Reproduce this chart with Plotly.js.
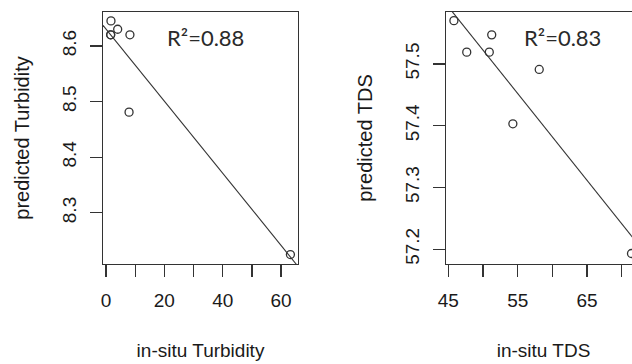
<!DOCTYPE html>
<html>
<head>
<meta charset="utf-8">
<script src="https://cdn.plot.ly/plotly-3.0.1.min.js"></script>
<style>
  html, body { margin: 0; padding: 0; overflow: hidden; background: #fff; }
  #chart { width: 660px; height: 364px; }
</style>
</head>
<body>
<div id="chart"></div>
<script>
// ---- data ----
const turbInSitu    = [1.7, 1.6, 1.6, 4.0, 8.2, 7.9, 63.2];
const turbPredicted = [8.645, 8.620, 8.620, 8.630, 8.620, 8.481, 8.225];
const tdsInSitu     = [45.8, 47.65, 50.9, 51.25, 54.3, 58.1, 71.4];
const tdsPredicted  = [57.570, 57.519, 57.519, 57.547, 57.403, 57.491, 57.193];

const turbXTicks  = [0, 10, 20, 30, 40, 50, 60];
const turbXLabels = ['0', '', '20', '', '40', '', '60'];
const turbYTicks  = [8.3, 8.4, 8.5, 8.6];
const tdsXTicks   = [45, 50, 55, 60, 65, 70, 75];
const tdsXLabels  = ['45', '', '55', '', '65', '', '75'];
const tdsYTicks   = [57.2, 57.3, 57.4, 57.5];

const turbR2 = 'R²=0.88';
const tdsR2  = 'R²=0.83';

// ---- helpers ----
function fit(x, y) {
  const n = x.length;
  const mx = x.reduce((a, b) => a + b, 0) / n;
  const my = y.reduce((a, b) => a + b, 0) / n;
  let sxy = 0, sxx = 0;
  for (let i = 0; i < n; i++) { sxy += (x[i] - mx) * (y[i] - my); sxx += (x[i] - mx) ** 2; }
  const b = sxy / sxx;
  return { a: my - b * mx, b: b };
}
function lineTrace(x, y, range, xa, ya) {
  const f = fit(x, y);
  return {
    x: range, y: range.map(v => f.a + f.b * v),
    xaxis: xa, yaxis: ya, mode: 'lines', type: 'scatter',
    line: { color: '#333', width: 1.1 }, hoverinfo: 'skip'
  };
}

const W = 660, H = 364;
const turbXRange = [-1.03, 65.8], turbYRange = [8.208, 8.661];
const tdsXRange = [44.66, 72.77], tdsYRange = [57.176, 57.584];

const markerStyle = { symbol: 'circle-open', size: 8, color: '#333', line: { width: 1.3, color: '#333' } };

const traces = [
  lineTrace(turbInSitu, turbPredicted, turbXRange, 'x', 'y'),
  { x: turbInSitu, y: turbPredicted, xaxis: 'x', yaxis: 'y', mode: 'markers', type: 'scatter',
    marker: markerStyle, cliponaxis: false },
  lineTrace(tdsInSitu, tdsPredicted, tdsXRange, 'x2', 'y2'),
  { x: tdsInSitu, y: tdsPredicted, xaxis: 'x2', yaxis: 'y2', mode: 'markers', type: 'scatter',
    marker: markerStyle, cliponaxis: false }
];

const fontFam = '"Liberation Sans", Arial, sans-serif';
const tickFont = { family: fontFam, size: 19, color: '#1a1a1a' };
const titleFont = { family: fontFam, size: 19, color: '#1a1a1a' };

function xAxis(range, ticks, labels, domain, anchor, title) {
  return {
    domain: domain, anchor: anchor, range: range,
    tickmode: 'array', tickvals: ticks, ticktext: labels,
    ticks: 'outside', ticklen: 12, tickwidth: 1.3, tickcolor: '#333',
    ticklabelstandoff: 7,
    showline: true, linecolor: '#333', linewidth: 1.3, mirror: true,
    showgrid: false, zeroline: false, tickfont: tickFont,
    title: { text: title, font: titleFont, standoff: 33 }
  };
}
function yAxis(range, ticks, domain, anchor, title) {
  return {
    domain: domain, anchor: anchor, range: range,
    tickmode: 'array', tickvals: ticks, tickangle: -90,
    ticks: 'outside', ticklen: 12, tickwidth: 1.3, tickcolor: '#333',
    ticklabelstandoff: 6,
    showline: true, linecolor: '#333', linewidth: 1.3, mirror: true,
    showgrid: false, zeroline: false, tickfont: tickFont,
    title: { text: title, font: { family: fontFam, size: 20, color: '#1a1a1a' }, standoff: 24 }
  };
}

const yDom = [(H - 264) / H, (H - 12) / H];

const layout = {
  width: W, height: H,
  margin: { l: 0, r: 0, t: 0, b: 0 },
  paper_bgcolor: '#fff', plot_bgcolor: '#fff',
  showlegend: false,
  xaxis:  xAxis(turbXRange, turbXTicks, turbXLabels, [103 / W, 298 / W], 'y', 'in-situ Turbidity'),
  yaxis:  yAxis(turbYRange, turbYTicks, yDom, 'x', 'predicted Turbidity'),
  xaxis2: xAxis(tdsXRange, tdsXTicks, tdsXLabels, [446 / W, 641 / W], 'y2', 'in-situ TDS'),
  yaxis2: yAxis(tdsYRange, tdsYTicks, yDom, 'x2', 'predicted TDS'),
  annotations: [
    { text: turbR2, xref: 'paper', yref: 'paper', x: 205 / W, y: (H - 38) / H,
      xanchor: 'center', yanchor: 'middle', showarrow: false,
      font: { family: 'Lato, "Open Sans", sans-serif', size: 22, color: '#2a2a2a' } },
    { text: tdsR2, xref: 'paper', yref: 'paper', x: 562 / W, y: (H - 38) / H,
      xanchor: 'center', yanchor: 'middle', showarrow: false,
      font: { family: 'Lato, "Open Sans", sans-serif', size: 22, color: '#2a2a2a' } }
  ]
};

Plotly.newPlot('chart', traces, layout, { staticPlot: true, displayModeBar: false });
</script>
</body>
</html>
